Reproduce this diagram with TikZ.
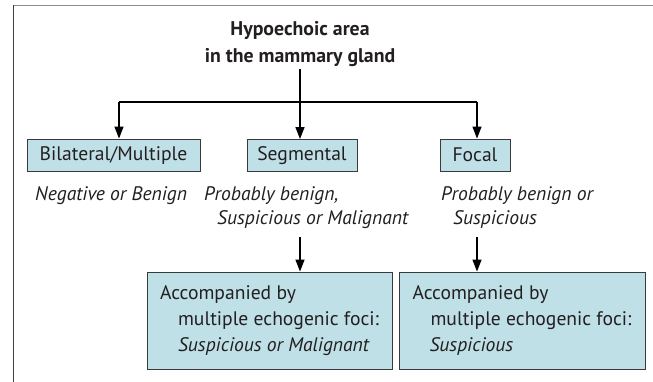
\documentclass[tikz,border=0pt]{standalone}
\usepackage{fontspec}
\setmainfont{PT Sans}
\usetikzlibrary{arrows.meta}
\definecolor{boxfill}{HTML}{BFE0E6}
\definecolor{boxline}{HTML}{3A3A3A}
\definecolor{txt}{HTML}{231F20}
\definecolor{framegray}{HTML}{8C8C8C}
\definecolor{frameleft}{HTML}{404040}
\begin{document}
\begin{tikzpicture}[x=1pt,y=1pt,
  every node/.style={font=\fontsize{19.6}{26}\selectfont, text=txt},
  cat/.style={draw=boxline, fill=boxfill, line width=0.9pt, minimum height=32pt, inner sep=0pt},
  big/.style={draw=boxline, fill=boxfill, line width=0.9pt, minimum height=97pt, inner sep=0pt, align=left},
  note/.style={font=\fontsize{19.6}{24}\selectfont\itshape, align=left, inner sep=0pt, anchor=north west},
  arr/.style={-{Triangle[length=12pt,width=9pt]}, line width=1.3pt, draw=black}
]
\useasboundingbox (0,0) rectangle (653,-382);
\draw[framegray, line width=1.6pt] (13,-5.5) -- (653,-5.5);
\draw[frameleft, line width=0.9pt] (13,-5.5) -- (13,-382);

\node[font=\fontsize{19.8}{27}\selectfont\bfseries, align=center] (title) at (300,-44) {Hypoechoic area\\in the mammary gland};

\node[cat, minimum width=173pt] (bil) at (113.5,-155) {Bilateral/Multiple};
\node[cat, minimum width=110pt] (seg) at (302,-155.5) {Segmental};
\node[cat, minimum width=70pt] (foc) at (475,-155) {Focal};

\node[note] (n1) at (35,-186) {Negative or Benign};
\node[note] (n2) at (204,-186) {Probably benign,\\\hspace*{13pt}Suspicious or Malignant};
\node[note] (n3) at (441,-186) {Probably benign or\\\hspace*{12pt}Suspicious};

\node[big, minimum width=245pt] (lo1) at (269.5,-320.5) {Accompanied by\\\hspace*{18pt}multiple echogenic foci:\\\hspace*{18pt}\textit{Suspicious or Malignant}};
\node[big, minimum width=246pt] (lo2) at (522,-320.5) {Accompanied by\\\hspace*{18pt}multiple echogenic foci:\\\hspace*{17pt}\textit{Suspicious}};

\coordinate (ts) at (300,-69);
\coordinate (jl) at (119,-102);
\coordinate (jr) at (477,-102);
\coordinate (m1) at (300,-237);
\coordinate (m2) at (477,-237);
\draw[line width=1.3pt] (jl) -- (jr);
\draw[arr] (ts) -- (ts |- seg.north);
\draw[arr] (jl) -- (jl |- bil.north);
\draw[arr] (jr) -- (jr |- foc.north);
\draw[arr] (m1) -- (m1 |- lo1.north);
\draw[arr] (m2) -- (m2 |- lo2.north);
\end{tikzpicture}
\end{document}
